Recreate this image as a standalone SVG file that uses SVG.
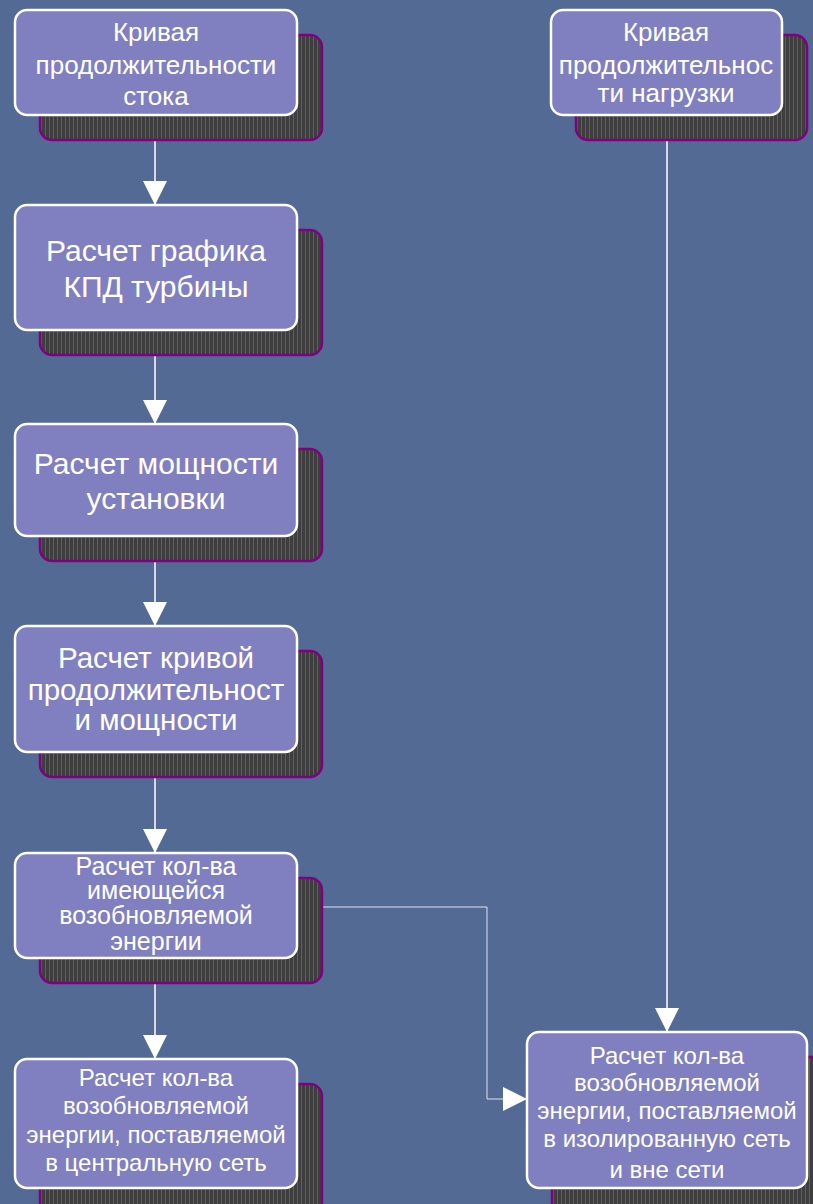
<svg xmlns="http://www.w3.org/2000/svg" width="813" height="1204" viewBox="0 0 813 1204">
<defs>
<pattern id="hatch" patternUnits="userSpaceOnUse" width="4" height="8">
<rect width="4" height="8" fill="#3e3e3e"/>
<rect x="1" width="1" height="8" fill="#0a9a0a"/>
</pattern>
<marker id="arr" markerUnits="userSpaceOnUse" viewBox="0 0 24 24" markerWidth="24" markerHeight="24" refX="24" refY="12" orient="auto">
<path d="M0,0 L24,12 L0,24 Z" fill="#ffffff"/>
</marker>
<style>
.shadow{fill:url(#hatch);stroke:#800080;stroke-width:2.5}
.box{fill:#8080c0;stroke:#ffffff;stroke-width:2.5}
.t{font-family:"Liberation Sans",Arial,sans-serif;fill:#ffffff;text-anchor:middle}
.c{fill:none;stroke:#ffffff;stroke-width:1.5}
.c2{fill:none;stroke:#e0e0f0;stroke-width:1}
</style>
</defs>
<rect width="813" height="1204" fill="#536a94"/>

<g id="connectors">
<path class="c" d="M155,115 V205" marker-end="url(#arr)"/>
<path class="c" d="M155,330 V424" marker-end="url(#arr)"/>
<path class="c" d="M155,536 V626" marker-end="url(#arr)"/>
<path class="c" d="M155,752 V853" marker-end="url(#arr)"/>
<path class="c" d="M155,958 V1059" marker-end="url(#arr)"/>
<path class="c" d="M667,115 V1032" marker-end="url(#arr)"/>
<path class="c2" d="M322,907 H487 V1099 H527" marker-end="url(#arr)"/>
</g>

<g id="n1">
<rect class="shadow" x="40" y="35" width="282" height="105" rx="12"/>
<rect class="box" x="15" y="10" width="282" height="105" rx="12"/>
<text class="t" font-size="26"><tspan x="156" y="41">Кривая</tspan><tspan x="156" y="74">продолжительности</tspan><tspan x="156" y="105">стока</tspan></text>
</g>

<g id="n2">
<rect class="shadow" x="40" y="230" width="282" height="125" rx="12"/>
<rect class="box" x="15" y="205" width="282" height="125" rx="12"/>
<text class="t" font-size="30"><tspan x="156" y="261">Расчет графика</tspan><tspan x="156" y="297">КПД турбины</tspan></text>
</g>

<g id="n3">
<rect class="shadow" x="40" y="449" width="282" height="112" rx="12"/>
<rect class="box" x="15" y="424" width="282" height="112" rx="12"/>
<text class="t" font-size="30"><tspan x="156" y="474">Расчет мощности</tspan><tspan x="156" y="509">установки</tspan></text>
</g>

<g id="n4">
<rect class="shadow" x="40" y="651" width="282" height="126" rx="12"/>
<rect class="box" x="15" y="626" width="282" height="126" rx="12"/>
<text class="t" font-size="29.5"><tspan x="156" y="668">Расчет кривой</tspan><tspan x="156" y="700">продолжительност</tspan><tspan x="156" y="730">и мощности</tspan></text>
</g>

<g id="n5">
<rect class="shadow" x="40" y="878" width="282" height="105" rx="12"/>
<rect class="box" x="15" y="853" width="282" height="105" rx="12"/>
<text class="t" font-size="25"><tspan x="156" y="875">Расчет кол-ва</tspan><tspan x="156" y="899">имеющейся</tspan><tspan x="156" y="924">возобновляемой</tspan><tspan x="156" y="950">энергии</tspan></text>
</g>

<g id="n6">
<rect class="shadow" x="40" y="1084" width="282" height="130" rx="12"/>
<rect class="box" x="15" y="1059" width="282" height="129" rx="12"/>
<text class="t" font-size="24"><tspan x="156" y="1086">Расчет кол-ва</tspan><tspan x="156" y="1114">возобновляемой</tspan><tspan x="156" y="1143">энергии, поставляемой</tspan><tspan x="156" y="1171">в центральную сеть</tspan></text>
</g>

<g id="n7">
<rect class="shadow" x="576" y="35" width="231" height="105" rx="12"/>
<rect class="box" x="551" y="10" width="231" height="105" rx="12"/>
<text class="t" font-size="26"><tspan x="666" y="41">Кривая</tspan><tspan x="666" y="74">продолжительнос</tspan><tspan x="666" y="102">ти нагрузки</tspan></text>
</g>

<g id="n8">
<rect class="shadow" x="552" y="1057" width="280" height="160" rx="12"/>
<rect class="box" x="527" y="1032" width="280" height="156" rx="12"/>
<text class="t" font-size="24"><tspan x="667" y="1064">Расчет кол-ва</tspan><tspan x="667" y="1091">возобновляемой</tspan><tspan x="667" y="1119">энергии, поставляемой</tspan><tspan x="667" y="1147">в изолированную сеть</tspan><tspan x="667" y="1178">и вне сети</tspan></text>
</g>
</svg>
